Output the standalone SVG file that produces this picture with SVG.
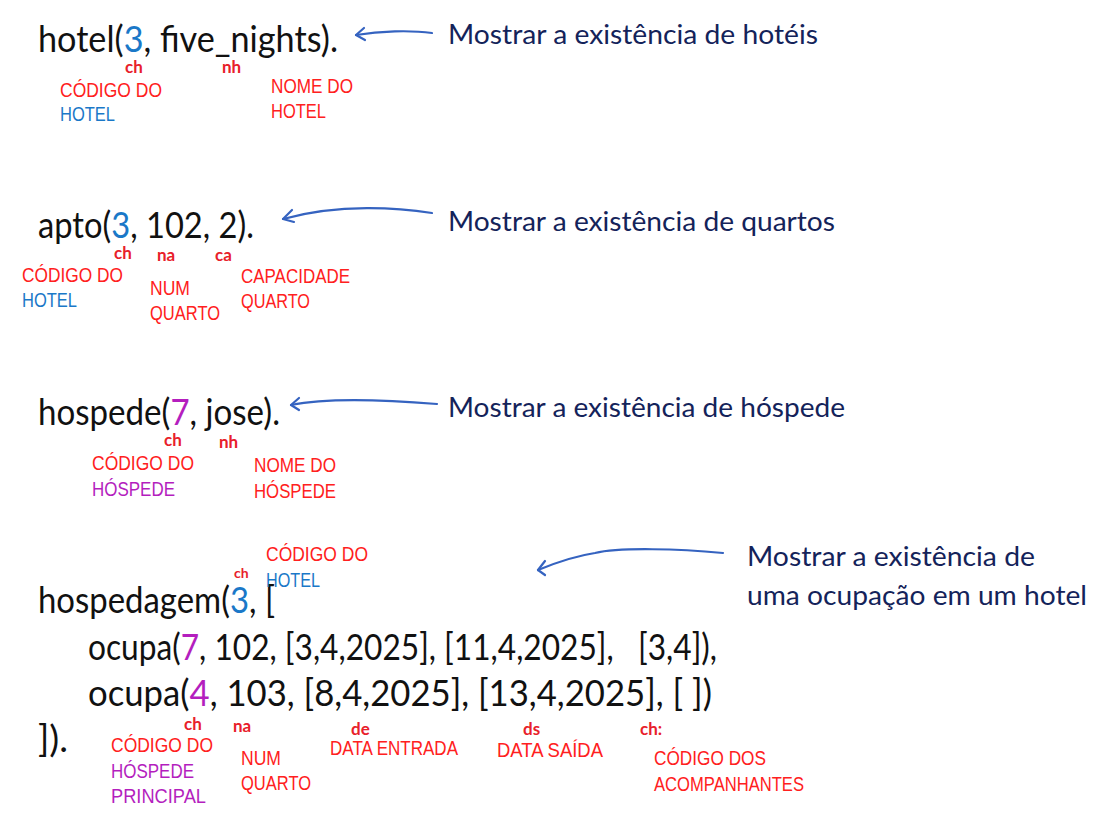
<svg xmlns="http://www.w3.org/2000/svg" width="1120" height="817" viewBox="0 0 1120 817">
<defs>
<style>
.code{font-family:Lato,"Liberation Sans",sans-serif;font-size:36px;fill:#111}
.desc{font-family:Lato,"Liberation Sans",sans-serif;font-size:27px;fill:#14235a}
.lab{font-family:"Liberation Sans",Arial,sans-serif;font-size:20px;fill:#ff2020}
.abbr{font-family:Lato,"Liberation Sans",sans-serif;font-size:17px;font-weight:bold;fill:#e8202a}
.blue{fill:#1a78c8}
.purple{fill:#b41ebe}
.arrow{fill:none;stroke:#3563c0;stroke-width:2.2;stroke-linecap:round;stroke-linejoin:round}
</style>
</defs>
<rect width="1120" height="817" fill="#ffffff"/>

<g id="connectors">
<path class="arrow" d="M432,33 C410,30 380,31 356,35"/>
<path class="arrow" d="M364,28 L356,35 L365,40"/>
<path class="arrow" d="M432,213 C400,208 340,203 283,219"/>
<path class="arrow" d="M292,210 L283,219 L294,222"/>
<path class="arrow" d="M437,404 C400,401 330,397 291,405"/>
<path class="arrow" d="M299,398 L291,405 L299,410"/>
<path class="arrow" d="M723,553 C680,549 620,547 595,553 C575,556 555,563 538,570"/>
<path class="arrow" d="M545,561 L538,570 L545,575"/>
</g>

<g id="hotel">
<text class="code" x="38" y="52" textLength="300" lengthAdjust="spacingAndGlyphs">hotel(<tspan class="blue">3</tspan>, five_nights).</text>
<text class="abbr" x="125" y="73">ch</text>
<text class="abbr" x="222" y="73">nh</text>
<text class="lab" x="60" y="97" textLength="102" lengthAdjust="spacingAndGlyphs">CÓDIGO DO</text>
<text class="lab blue" x="60" y="121" textLength="55" lengthAdjust="spacingAndGlyphs">HOTEL</text>
<text class="lab" x="271" y="93" textLength="82" lengthAdjust="spacingAndGlyphs">NOME DO</text>
<text class="lab" x="271" y="118" textLength="55" lengthAdjust="spacingAndGlyphs">HOTEL</text>
<text class="desc" x="448" y="44" textLength="370" lengthAdjust="spacingAndGlyphs">Mostrar a existência de hotéis</text>
</g>

<g id="apto">
<text class="code" x="38" y="238" textLength="216" lengthAdjust="spacingAndGlyphs">apto(<tspan class="blue">3</tspan>, 102, 2).</text>
<text class="abbr" x="114" y="259">ch</text>
<text class="abbr" x="157" y="261">na</text>
<text class="abbr" x="215" y="261">ca</text>
<text class="lab" x="22" y="282" textLength="101" lengthAdjust="spacingAndGlyphs">CÓDIGO DO</text>
<text class="lab blue" x="22" y="307" textLength="55" lengthAdjust="spacingAndGlyphs">HOTEL</text>
<text class="lab" x="150" y="295" textLength="40" lengthAdjust="spacingAndGlyphs">NUM</text>
<text class="lab" x="150" y="320" textLength="70" lengthAdjust="spacingAndGlyphs">QUARTO</text>
<text class="lab" x="241" y="283" textLength="109" lengthAdjust="spacingAndGlyphs">CAPACIDADE</text>
<text class="lab" x="241" y="308" textLength="69" lengthAdjust="spacingAndGlyphs">QUARTO</text>
<text class="desc" x="448" y="231" textLength="387" lengthAdjust="spacingAndGlyphs">Mostrar a existência de quartos</text>
</g>

<g id="hospede">
<text class="code" x="38" y="425" textLength="242" lengthAdjust="spacingAndGlyphs">hospede(<tspan class="purple">7</tspan>, jose).</text>
<text class="abbr" x="164" y="446">ch</text>
<text class="abbr" x="219" y="448">nh</text>
<text class="lab" x="92" y="470" textLength="102" lengthAdjust="spacingAndGlyphs">CÓDIGO DO</text>
<text class="lab purple" x="92" y="496" textLength="83" lengthAdjust="spacingAndGlyphs">HÓSPEDE</text>
<text class="lab" x="254" y="472" textLength="82" lengthAdjust="spacingAndGlyphs">NOME DO</text>
<text class="lab" x="254" y="498" textLength="82" lengthAdjust="spacingAndGlyphs">HÓSPEDE</text>
<text class="desc" x="448" y="417" textLength="397" lengthAdjust="spacingAndGlyphs">Mostrar a existência de hóspede</text>
</g>

<g id="hospedagem">
<text class="code" x="38" y="613" textLength="237" lengthAdjust="spacingAndGlyphs">hospedagem(<tspan class="blue">3</tspan>, [</text>
<text class="code" x="88" y="660" textLength="629" lengthAdjust="spacingAndGlyphs">ocupa(<tspan class="purple">7</tspan>, 102, [3,4,2025], [11,4,2025], &#160; [3,4]),</text>
<text class="code" x="88" y="706" textLength="624" lengthAdjust="spacingAndGlyphs">ocupa(<tspan class="purple">4</tspan>, 103, [8,4,2025], [13,4,2025], [ ])</text>
<text class="code" x="38" y="752" textLength="30" lengthAdjust="spacingAndGlyphs">]).</text>
<text class="abbr" x="234" y="578" style="font-size:14px">ch</text>
<text class="lab" x="266" y="561" textLength="102" lengthAdjust="spacingAndGlyphs">CÓDIGO DO</text>
<text class="lab blue" x="266" y="587" textLength="54" lengthAdjust="spacingAndGlyphs">HOTEL</text>
<text class="abbr" x="184" y="730">ch</text>
<text class="abbr" x="233" y="732">na</text>
<text class="abbr" x="351" y="735">de</text>
<text class="abbr" x="523" y="735">ds</text>
<text class="abbr" x="640" y="735">ch:</text>
<text class="lab" x="111" y="752" textLength="102" lengthAdjust="spacingAndGlyphs">CÓDIGO DO</text>
<text class="lab purple" x="111" y="778" textLength="83" lengthAdjust="spacingAndGlyphs">HÓSPEDE</text>
<text class="lab purple" x="111" y="803" textLength="95" lengthAdjust="spacingAndGlyphs">PRINCIPAL</text>
<text class="lab" x="241" y="765" textLength="40" lengthAdjust="spacingAndGlyphs">NUM</text>
<text class="lab" x="241" y="790" textLength="70" lengthAdjust="spacingAndGlyphs">QUARTO</text>
<text class="lab" x="330" y="755" textLength="128" lengthAdjust="spacingAndGlyphs">DATA ENTRADA</text>
<text class="lab" x="497" y="757" textLength="106" lengthAdjust="spacingAndGlyphs">DATA SAÍDA</text>
<text class="lab" x="654" y="765" textLength="112" lengthAdjust="spacingAndGlyphs">CÓDIGO DOS</text>
<text class="lab" x="654" y="791" textLength="150" lengthAdjust="spacingAndGlyphs">ACOMPANHANTES</text>
<text class="desc" x="747" y="566" textLength="288" lengthAdjust="spacingAndGlyphs">Mostrar a existência de</text>
<text class="desc" x="747" y="605" textLength="340" lengthAdjust="spacingAndGlyphs">uma ocupação em um hotel</text>
</g>
</svg>
